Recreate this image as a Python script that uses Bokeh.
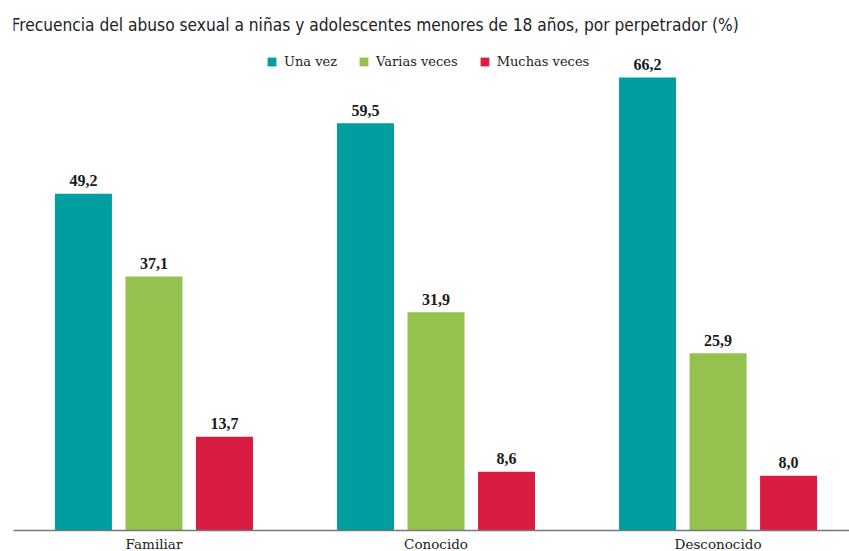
from bokeh.plotting import figure
from bokeh.models import ColumnDataSource, FixedTicker, Label, LabelSet, Legend, LegendItem, Range1d
from bokeh.embed import file_html
from bokeh.resources import INLINE

categories = ["Familiar", "Conocido", "Desconocido"]
series = ["Una vez", "Varias veces", "Muchas veces"]
una_vez = [49.2, 59.5, 66.2]
varias_veces = [37.1, 31.9, 25.9]
muchas_veces = [13.7, 8.6, 8.0]
colors = ["#009e9f", "#95c24f", "#d91c42"]

values = [una_vez, varias_veces, muchas_veces]
offsets = [-0.25, 0.0, 0.25]
bar_width = 0.202

p = figure(output_backend="svg", toolbar_location=None,
           frame_width=836, frame_height=522,
           min_border_left=13, min_border_right=0, min_border_top=8, min_border_bottom=0,
           x_range=Range1d(-0.498, 2.466), y_range=Range1d(0, 76.28))
p.outline_line_color = None
p.grid.visible = False
p.yaxis.visible = False

xa = p.xaxis[0]
xa.ticker = FixedTicker(ticks=list(range(len(categories))))
xa.major_label_overrides = {i: c for i, c in enumerate(categories)}
xa.major_tick_line_color = None
xa.minor_tick_line_color = None
xa.major_tick_in = 0
xa.major_tick_out = 0
xa.major_label_standoff = 5
xa.axis_line_color = "#777777"
xa.axis_line_width = 1.5
xa.major_label_text_font = "DejaVu Serif"
xa.major_label_text_font_size = "13.5px"
xa.major_label_text_color = "#222222"

items = []
for name, vals, off, col in zip(series, values, offsets, colors):
    src = ColumnDataSource(dict(x=[i + off for i in range(len(categories))], y=vals,
                                lab=[f"{v:.1f}".replace(".", ",") for v in vals]))
    r = p.vbar(x="x", top="y", width=bar_width, bottom=0, source=src,
               fill_color=col, line_color=None)
    items.append(LegendItem(label=name, renderers=[r]))
    p.add_layout(LabelSet(x="x", y="y", text="lab", source=src, y_offset=7.5,
                          text_align="center", text_baseline="alphabetic",
                          text_font="DejaVu Serif", text_font_style="bold",
                          text_font_size="16px", text_color="#1a1a1a"))

legend = Legend(items=items, orientation="horizontal", location=(253, 461),
                padding=0, margin=0, spacing=21, glyph_width=11, glyph_height=11,
                label_standoff=7, label_height=12, border_line_color=None,
                background_fill_alpha=0,
                label_text_font="DejaVu Serif", label_text_font_size="13px",
                label_text_color="#222222")
p.add_layout(legend, "center")

title = Label(x=-0.505, y=73.94,
              text="Frecuencia del abuso sexual a niñas y adolescentes menores de 18 años, por perpetrador (%)",
              text_font="DejaVu Sans Condensed", text_font_size="17.2px",
              text_color="#222222", text_baseline="alphabetic")
p.add_layout(title)

open("out.html", "w").write(file_html(p, INLINE))
